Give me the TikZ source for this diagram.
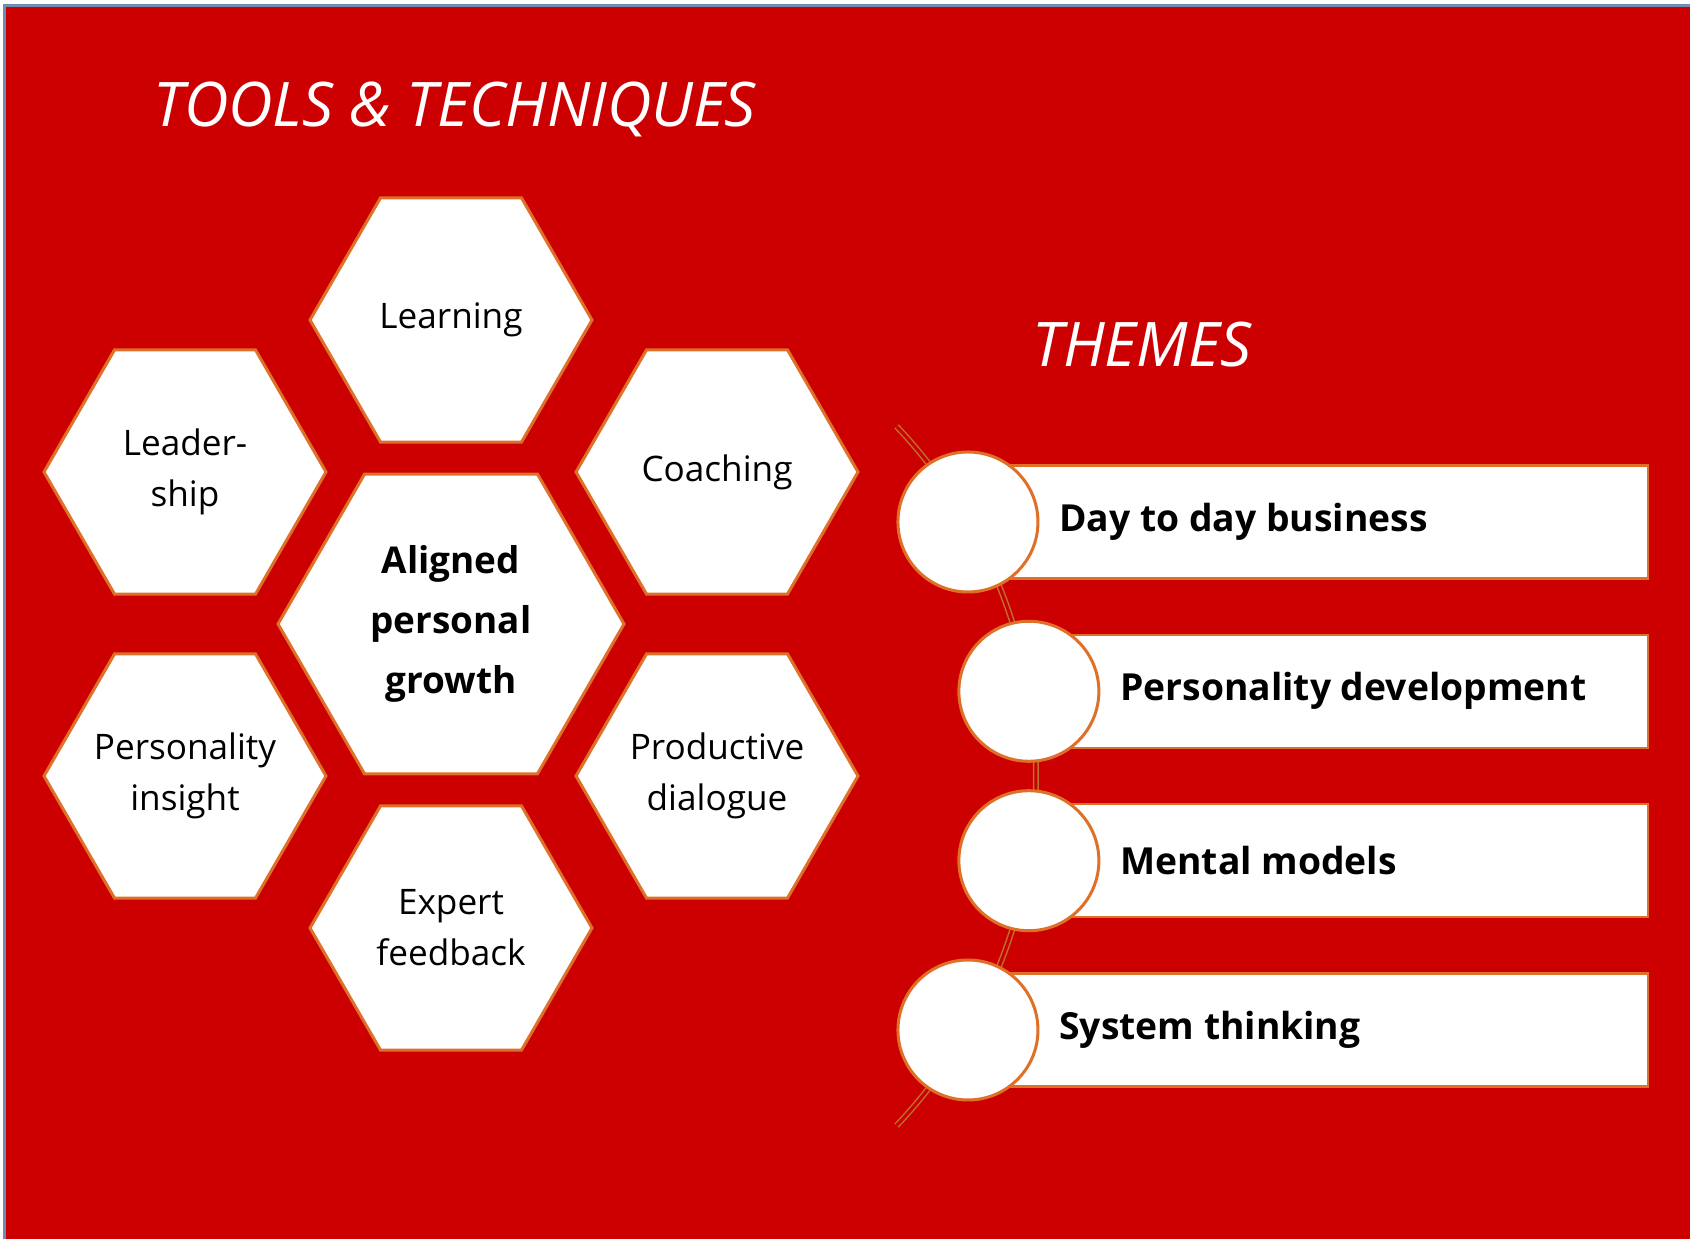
\documentclass[tikz,border=0pt]{standalone}
\usepackage{fontspec}
\setmainfont{Open Sans}
\usetikzlibrary{shapes.geometric,positioning,calc}

\definecolor{bgred}{RGB}{204,0,0}
\definecolor{hexorange}{RGB}{222,112,40}
\definecolor{arcbrown}{RGB}{190,110,45}
\definecolor{frameblue}{RGB}{110,140,180}

\begin{document}
\begin{tikzpicture}[on grid,
  hexsmall/.style={regular polygon, regular polygon sides=6, draw=hexorange, line width=0.3mm, fill=white,
    minimum size=2.82cm, inner sep=-0.3cm, align=center, font=\fontsize{10}{14.5}\selectfont},
  hexbig/.style={hexsmall, minimum size=3.46cm, font=\fontsize{10.5}{17}\selectfont\bfseries},
  title/.style={anchor=west, text=white, font=\fontsize{17.5}{21}\selectfont\itshape},
  themebar/.style={draw=hexorange, line width=0.25mm, fill=white},
  themecircle/.style={circle, draw=hexorange, line width=0.3mm, fill=white, minimum size=1.4cm, inner sep=0pt},
  themetext/.style={anchor=west, font=\fontsize{10.6}{12}\selectfont\bfseries}]
\useasboundingbox (0,0) rectangle (16.9,12.39);
\fill[bgred] (0.06,0) rectangle (16.9,12.32);
\draw[frameblue, line width=0.3mm] (0.045,0) -- (0.045,12.335) -- (16.9,12.335);

% titles
\node[title] (tools) at (1.41,11.30) {TOOLS \& TECHNIQUES};
\node[title] (themes) at (10.20,8.94) {THEMES};

% hexagons
\node[hexbig] (growth) at (4.51,6.15) {Aligned\\personal\\growth};
\node[hexsmall, above=3.04cm of growth] (learning) {Learning};
\node[hexsmall, above left=1.52cm and 2.66cm of growth] (leadership) {Leader-\\ship};
\node[hexsmall, above right=1.52cm and 2.66cm of growth] (coaching) {Coaching};
\node[hexsmall, below left=1.52cm and 2.66cm of growth] (insight) {Personality\\insight};
\node[hexsmall, below right=1.52cm and 2.66cm of growth] (dialogue) {Productive\\dialogue};
\node[hexsmall, below=3.04cm of growth] (feedback) {Expert\\feedback};

% themes
\coordinate (hub) at (5.28,4.63);
\coordinate (barend) at (16.48,0);
\draw[arcbrown, line width=0.15mm, double=bgred, double distance=0.3mm]
  ($(hub)+(43.5:5.08)$) arc[start angle=43.5, end angle=-43.5, radius=5.08];
\foreach \ang/\txt [count=\i] in {30/Day to day business, 9.6/Personality development,
                                  -9.6/Mental models, -30/System thinking}{
  \coordinate (p\i) at ($(hub)+(\ang:5.08)$);
  \coordinate (q\i) at (p\i -| barend);
  \draw[themebar] ($(p\i)+(0,-0.565)$) rectangle ($(q\i)+(0,0.565)$);
  \node[themecircle] (c\i) at (p\i) {};
  \node[themetext] (t\i) at ($(c\i.center)+(0.79,0)$) {\txt};
}
\end{tikzpicture}
\end{document}
